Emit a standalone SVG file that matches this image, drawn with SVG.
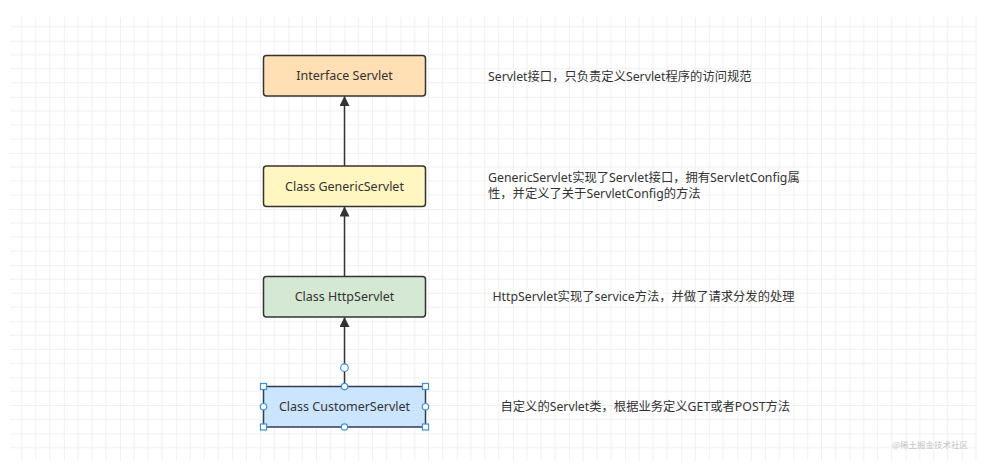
<svg xmlns="http://www.w3.org/2000/svg" width="992" height="470" viewBox="0 0 992 470">
<defs>
<pattern id="grid" x="7.76" y="40.7" width="56.12" height="56.12" patternUnits="userSpaceOnUse">
<path d="M14.03 0V56.12M28.06 0V56.12M42.09 0V56.12M0 14.03H56.12M0 28.06H56.12M0 42.09H56.12" stroke="#f0f0f0" stroke-width="1" fill="none"/>
<path d="M0 0V56.12M0 0H56.12" stroke="#e3e3e3" stroke-width="1" fill="none"/>
</pattern>
<marker id="arr" viewBox="0 0 10 10" refX="10" refY="5" markerWidth="10" markerHeight="10" markerUnits="userSpaceOnUse" orient="auto">
<path d="M0 0L10 5L0 10z" fill="#333"/>
</marker>
<style>
.box{stroke:#333;stroke-width:1.5}
.lbl{font-family:"Noto Sans","Noto Sans CJK SC",sans-serif;font-size:12.5px;fill:#333;text-anchor:middle}
.note{font-family:"Noto Sans","Noto Sans CJK SC",sans-serif;font-size:12.3px;fill:#333}
.edge{stroke:#333;stroke-width:1.5;fill:none}
.h{fill:#fff;stroke:#3d8fe0;stroke-width:1.2}
</style>
</defs>
<rect width="992" height="470" fill="#fff"/>
<rect x="10" y="17" width="967" height="444" fill="url(#grid)"/>
<g id="connectors">
<line class="edge" x1="344.5" y1="166" x2="344.5" y2="96" marker-end="url(#arr)"/>
<line class="edge" x1="344.5" y1="276" x2="344.5" y2="206.5" marker-end="url(#arr)"/>
<line class="edge" x1="344.5" y1="386.5" x2="344.5" y2="317" marker-end="url(#arr)"/>
</g>
<g id="interface-servlet">
<rect class="box" x="263.5" y="55.5" width="162" height="40.5" rx="3" fill="#ffdfb3"/>
<text class="lbl" x="344.5" y="80">Interface Servlet</text>
</g>
<g id="generic-servlet">
<rect class="box" x="263.5" y="166" width="162" height="40.5" rx="3" fill="#fff6c2"/>
<text class="lbl" x="344.5" y="190.5">Class GenericServlet</text>
</g>
<g id="http-servlet">
<rect class="box" x="263.5" y="276.5" width="162" height="40.5" rx="3" fill="#d5e8d4"/>
<text class="lbl" x="344.5" y="301">Class HttpServlet</text>
</g>
<g id="customer-servlet">
<rect x="263.5" y="386.5" width="162" height="40.5" rx="1" fill="#cce5ff" stroke="#2e3e56" stroke-width="1.5"/>
<text class="lbl" x="344.5" y="411">Class CustomerServlet</text>
<circle class="h" cx="344.5" cy="367.7" r="3.8"/>
<circle class="h" cx="344.5" cy="386.5" r="3.2"/>
<circle class="h" cx="344.5" cy="427" r="3.2"/>
<circle class="h" cx="263.5" cy="406.7" r="3.2"/>
<circle class="h" cx="425.5" cy="406.7" r="3.2"/>
<rect class="h" x="260.5" y="383.5" width="6" height="6"/>
<rect class="h" x="422.5" y="383.5" width="6" height="6"/>
<rect class="h" x="260.5" y="424" width="6" height="6"/>
<rect class="h" x="422.5" y="424" width="6" height="6"/>
</g>
<g id="notes">
<text class="note" x="488" y="81">Servlet接口，只负责定义Servlet程序的访问规范</text>
<text class="note" x="488" y="182">GenericServlet实现了Servlet接口，拥有ServletConfig属</text>
<text class="note" x="488" y="198">性，并定义了关于ServletConfig的方法</text>
<text class="note" x="492.5" y="301">HttpServlet实现了service方法，并做了请求分发的处理</text>
<text class="note" x="500.5" y="411">自定义的Servlet类，根据业务定义GET或者POST方法</text>
</g>
<text x="892" y="448" font-family="Noto Sans CJK SC,sans-serif" font-size="8.5" fill="#c4c4c4">@稀土掘金技术社区</text>
</svg>
